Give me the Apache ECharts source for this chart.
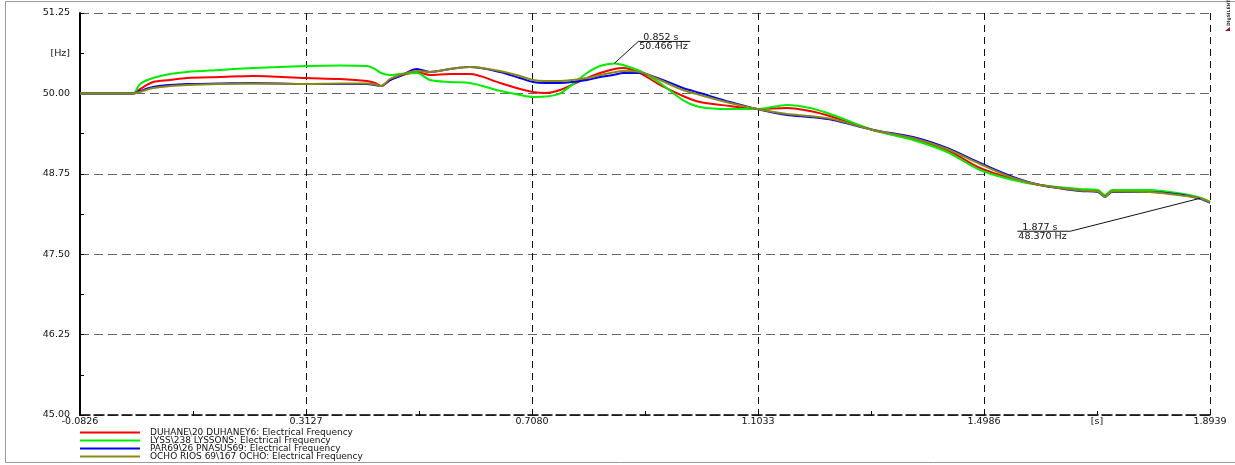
<!DOCTYPE html>
<html><head><meta charset="utf-8">
<script src="https://cdn.jsdelivr.net/npm/echarts@6/dist/echarts.min.js"></script>
<style>html,body{margin:0;padding:0;background:#fff}#c{width:1235px;height:465px}</style>
</head><body><div id="c"></div>
<script>
// ---- data (time in s, frequency in Hz) ----
const time = [-0.0826, 0.0101, 0.0223, 0.0451, 0.0748, 0.1046, 0.1623, 0.2200, 0.3127, 0.3722,
  0.4194, 0.4334, 0.4439, 0.4596, 0.4771, 0.5068, 0.5296, 0.5646, 0.5995, 0.6520,
  0.6870, 0.7097, 0.7307, 0.7570, 0.8042, 0.8269, 0.852, 0.8672, 0.8969, 0.9319,
  0.9721, 1.0018, 1.0543, 1.1015, 1.1540, 1.1942, 1.2345, 1.3044, 1.3744, 1.4339,
  1.4916, 1.5493, 1.5965, 1.6665, 1.6980, 1.7102, 1.7225, 1.7889, 1.8467, 1.877, 1.8939];
const duhane = [50.00, 50.00, 50.068, 50.177, 50.208, 50.239, 50.255, 50.271, 50.239, 50.224,
  50.193, 50.162, 50.115, 50.208, 50.271, 50.333, 50.286, 50.302, 50.302, 50.162,
  50.068, 50.022, 50.006, 50.053, 50.239, 50.317, 50.38, 50.395, 50.317, 50.131,
  49.96, 49.866, 49.804, 49.757, 49.773, 49.726, 49.633, 49.431, 49.29, 49.120,
  48.840, 48.669, 48.576, 48.498, 48.483, 48.405, 48.483, 48.483, 48.42, 48.370, 48.312];
const lyss = [50.00, 50.00, 50.146, 50.239, 50.302, 50.333, 50.364, 50.395, 50.426, 50.434,
  50.426, 50.379, 50.317, 50.286, 50.302, 50.317, 50.208, 50.177, 50.162, 50.04,
  49.975, 49.944, 49.95, 50.00, 50.317, 50.426, 50.466, 50.442, 50.348, 50.162,
  49.897, 49.789, 49.757, 49.757, 49.820, 49.773, 49.664, 49.431, 49.276, 49.089,
  48.809, 48.654, 48.576, 48.514, 48.498, 48.42, 48.498, 48.498, 48.436, 48.38, 48.312];
const par69 = [50.00, 50.00, 50.037, 50.100, 50.131, 50.146, 50.154, 50.162, 50.146, 50.146,
  50.146, 50.131, 50.115, 50.208, 50.271, 50.379, 50.333, 50.379, 50.410, 50.333,
  50.239, 50.177, 50.162, 50.162, 50.208, 50.255, 50.29, 50.317, 50.317, 50.224,
  50.084, 50.006, 49.866, 49.757, 49.664, 49.633, 49.586, 49.431, 49.322, 49.151,
  48.918, 48.700, 48.576, 48.483, 48.467, 48.39, 48.467, 48.467, 48.42, 48.36, 48.297];
const ocho = [50.00, 50.00, 50.022, 50.084, 50.115, 50.131, 50.146, 50.154, 50.146, 50.154,
  50.154, 50.138, 50.115, 50.224, 50.286, 50.348, 50.333, 50.379, 50.410, 50.348,
  50.271, 50.208, 50.193, 50.193, 50.239, 50.286, 50.33, 50.348, 50.333, 50.208,
  50.053, 49.975, 49.851, 49.757, 49.68, 49.648, 49.60, 49.431, 49.306, 49.135,
  48.902, 48.685, 48.576, 48.49, 48.475, 48.39, 48.475, 48.467, 48.41, 48.370, 48.305];
const seriesNames = ['DUHANE\\20 DUHANEY6: Electrical Frequency',
  'LYSS\\238 LYSSONS: Electrical Frequency',
  'PAR69\\26 PNASUS69: Electrical Frequency',
  'OCHO RIOS 69\\167 OCHO: Electrical Frequency'];
const seriesValues = [duhane, lyss, par69, ocho];
const seriesColors = ['#ff0000', '#00ee00', '#0000ff', '#8a8a10'];
const xTickLabels = ['-0.0826', '0.3127', '0.7080', '1.1033', '1.4986', '1.8939'];
const yTickLabels = ['45.00', '46.25', '47.50', '48.75', '50.00', '51.25'];
const xUnit = '[s]', yUnit = '[Hz]';
const annotations = [{ series: 1, index: 26 }, { series: 0, index: 49 }];

// ---- derived ----
const FONT = 'DejaVu Sans';
const FS = 9.5;
const xTicks = xTickLabels.map(Number);
const yTicks = yTickLabels.map(Number);
const xMinor = xTicks.slice(1).map((v, i) => (v + xTicks[i]) / 2);
const yMinor = yTicks.slice(1).map((v, i) => (v + yTicks[i]) / 2);
const xUnitPos = xMinor[xMinor.length - 1];
const yUnitPos = yMinor[yMinor.length - 1];
function fmt(v, ticks, labels, unitPos, unit) {
  for (let i = 0; i < ticks.length; i++) if (Math.abs(v - ticks[i]) < 1e-6) return labels[i];
  if (Math.abs(v - unitPos) < 1e-6) return unit;
  return '';
}

const chart = echarts.init(document.getElementById('c'), null, { renderer: 'canvas' });
const option = {
  animation: false,
  backgroundColor: '#fff',
  grid: { left: 80, top: 13, right: 25, bottom: 50, containLabel: false, outerBoundsMode: 'none' },
  legend: {
    orient: 'vertical', left: 80, top: 428, padding: 0, itemGap: -1,
    itemWidth: 60, itemHeight: 2, icon: 'rect', selectedMode: false,
    textStyle: { fontFamily: FONT, fontSize: 9, lineHeight: 8, color: '#111', padding: [0, 0, 0, 5] },
    data: seriesNames
  },
  xAxis: [{
    type: 'value', min: xTicks[0], max: xTicks[xTicks.length - 1],
    axisLine: { show: true, onZero: false, lineStyle: { color: '#000', width: 1.5, type: [10, 4] } },
    axisTick: { show: true, inside: true, length: 5, customValues: xTicks, lineStyle: { color: '#000' } },
    splitLine: { show: true, showMinLine: false, lineStyle: { color: '#111', width: 1, type: [7, 5] } },
    axisLabel: {
      customValues: xTicks.concat([xUnitPos]), margin: 2,
      fontFamily: FONT, fontSize: FS, color: '#111',
      formatter: v => fmt(v, xTicks, xTickLabels, xUnitPos, xUnit)
    }
  }, {
    type: 'value', min: xTicks[0], max: xTicks[xTicks.length - 1], position: 'bottom',
    axisLine: { show: false, onZero: false },
    axisTick: { show: true, inside: true, length: 4, customValues: xMinor, lineStyle: { color: '#000' } },
    splitLine: { show: false }, axisLabel: { show: false }
  }],
  yAxis: {
    type: 'value', min: yTicks[0], max: yTicks[yTicks.length - 1], interval: yTicks[1] - yTicks[0],
    axisLine: { show: true, onZero: false, lineStyle: { color: '#000', width: 2 } },
    axisTick: { show: true, inside: true, length: 4, lineStyle: { color: '#000' } },
    minorTick: { show: true, splitNumber: 2, length: 4, lineStyle: { color: '#000' } },
    splitLine: { show: true, lineStyle: { color: '#666', width: 1, type: [9, 5] } },
    axisLabel: {
      customValues: yTicks.concat([yUnitPos]), margin: 10,
      fontFamily: FONT, fontSize: FS, color: '#111',
      formatter: v => fmt(v, yTicks, yTickLabels, yUnitPos, yUnit)
    }
  },
  series: seriesNames.map((name, k) => ({
    name, type: 'line', xAxisIndex: 0, yAxisIndex: 0,
    data: time.map((t, i) => [t, seriesValues[k][i]]),
    showSymbol: false, symbol: 'none', smooth: 0.3,
    color: seriesColors[k],
    lineStyle: { color: seriesColors[k], width: 2 },
    z: 2 + k
  }))
};
chart.setOption(option);

// ---- annotations, logo and frame ----
const g = [{
  type: 'rect', shape: { x: 5.5, y: 1.5, width: 1240, height: 461 },
  style: { fill: null, stroke: '#9a9a9a', lineWidth: 1 }, silent: true, z: 0
}, {
  type: 'text', x: 1229, y: 26, rotation: Math.PI / 2,
  style: { text: 'DIgSILENT', fontFamily: FONT, fontSize: 4.5, fontWeight: 'bold', fill: '#333', textVerticalAlign: 'middle' }
}, {
  type: 'polygon', shape: { points: [[1225, 31], [1230, 27], [1230, 31]] }, style: { fill: '#9b1020' }
}];
const annoOffsets = [{ dx: 24, dy: -22, len: 52, dir: 1 }, { dx: -130, dy: 33, len: 53, dir: -1 }];
annotations.forEach((a, j) => {
  const t = time[a.index], f = seriesValues[a.series][a.index];
  const p = chart.convertToPixel({ xAxisIndex: 0, yAxisIndex: 0 }, [t, f]);
  const o = annoOffsets[j];
  const ex = p[0] + o.dx, ey = p[1] + o.dy, hx = ex + o.dir * o.len;
  const left = Math.min(ex, hx);
  g.push({
    type: 'polyline', shape: { points: [p, [ex, ey], [hx, ey]] },
    style: { stroke: '#111', lineWidth: 1, fill: null }, z: 20
  });
  g.push({
    type: 'text', x: left + 5, y: ey + 1, z: 20,
    style: { text: t.toFixed(3) + ' s', fontFamily: FONT, fontSize: FS, fill: '#111', textVerticalAlign: 'bottom' }
  });
  g.push({
    type: 'text', x: left + 1, y: ey, z: 20,
    style: { text: f.toFixed(3) + ' Hz', fontFamily: FONT, fontSize: FS, fill: '#111', textVerticalAlign: 'top' }
  });
});
chart.setOption({ graphic: g });
</script>
</body></html>
